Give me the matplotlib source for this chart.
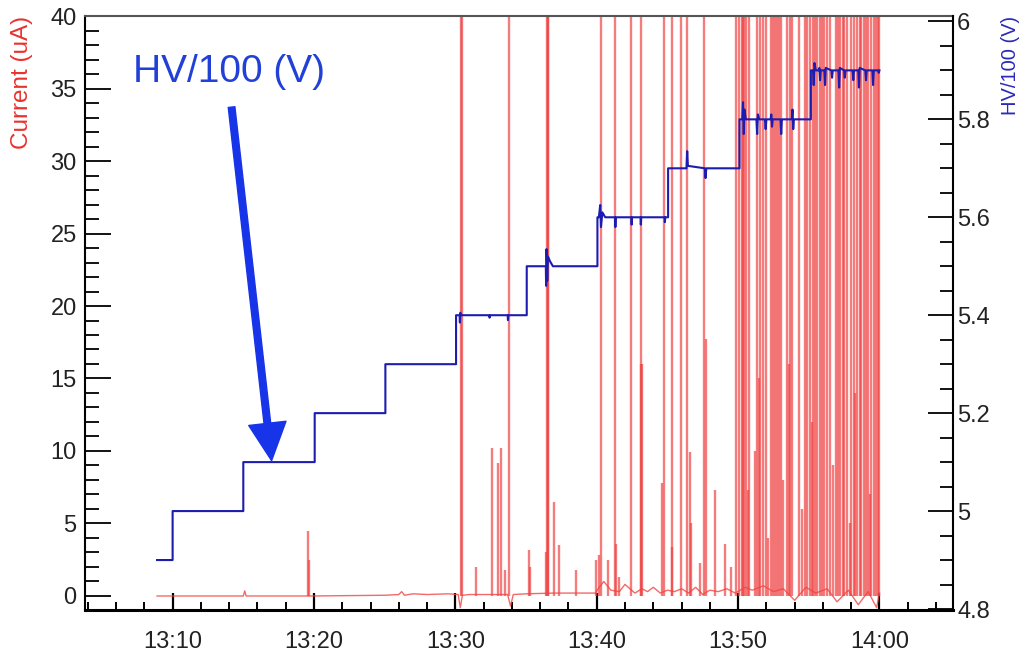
import matplotlib
matplotlib.use('Agg')
import matplotlib.pyplot as plt
from matplotlib.ticker import MultipleLocator, FuncFormatter

plt.rcParams['font.family'] = ['Liberation Sans', 'DejaVu Sans']

# time axis: minutes after 13:00
# current baseline (uA)
base_t = [8.9, 15.0, 15.1, 15.2, 19.5, 19.9, 25.0, 26.0, 26.2, 26.4, 27.0, 28.0, 29.5, 30.2, 30.35,
          30.5, 31.0, 33.7, 33.9, 34.1, 35.0, 37.0, 39.9, 40.1, 40.5, 41.0, 41.6, 42.0, 42.7, 43.2,
          43.6, 44.0, 44.5, 45.0, 45.5, 46.0, 46.5, 47.0, 47.5, 48.0, 48.6, 49.2, 49.8, 50.5, 51.0,
          51.8, 52.5, 53.2, 54.0, 54.8, 55.5, 56.3, 57.0, 57.8, 58.5, 59.2, 59.8, 60.0]
base_v = [0.0, 0.0, 0.35, 0.0, 0.0, 0.0, 0.05, 0.1, 0.3, 0.05, 0.15, 0.1, 0.15, 0.1, -0.8,
          0.05, 0.1, 0.1, -0.7, 0.1, 0.15, 0.2, 0.2, 0.5, 1.0, 0.4, 0.3, 0.8, 0.2, 0.5,
          0.3, 0.6, 0.2, 0.4, 0.3, 0.5, 0.2, 0.6, 0.1, 0.4, 0.3, 0.5, 0.2, 0.6, 0.4,
          0.7, 0.3, 0.5, -0.3, 0.6, 0.2, 0.5, -0.4, 0.4, -0.6, 0.3, -0.8, 0.2]

# current spikes: time (min after 13:00), peak (uA); 45 = off scale
spike_t = [19.6, 19.68, 30.4, 30.45, 31.43, 32.6, 33.0, 33.2, 33.5, 33.78, 35.2, 35.25, 36.4, 36.45,
           36.52, 36.58, 37.0, 37.3, 38.55, 39.95, 40.15, 40.32, 40.77, 41.31, 41.38, 41.6, 42.46,
           43.1, 43.15, 43.2, 44.6, 44.75, 45.3, 45.35, 45.97, 46.4, 46.6, 46.7, 47.3, 47.6, 47.75,
           48.4, 49.1, 49.5, 49.87, 50.1, 50.25, 50.33, 50.4, 50.57, 50.7, 50.8, 51.2, 51.37, 51.5,
           51.55, 51.73, 51.95, 52.1, 52.3, 52.45, 52.6, 52.75, 52.9, 53.07, 53.2, 53.45, 53.6,
           53.65, 53.78, 54.3, 54.5, 54.7, 54.9, 55.1, 55.2, 55.3, 55.45, 55.6, 55.8, 55.95, 56.1,
           56.3, 56.5, 56.7, 56.96, 57.1, 57.24, 57.4, 57.52, 57.7, 57.9, 58.0, 58.2, 58.3, 58.44,
           58.6, 58.73, 58.9, 59.05, 59.2, 59.3, 59.43, 59.6, 59.75, 59.9, 60.0]
spike_h = [4.5, 2.5, 45, 45, 2.0, 10.2, 9.2, 10.2, 1.8, 45, 3.2, 2.0, 3.0, 45,
           45, 45, 6.5, 3.5, 1.8, 2.5, 2.8, 45, 2.5, 45, 3.6, 1.3, 45,
           45, 16, 16, 7.8, 45, 45, 3.4, 45, 45, 9.9, 5.0, 2.3, 45, 17.7,
           7.3, 3.6, 2.0, 45, 45, 45, 45, 45, 45, 7.3, 45, 10, 45, 15,
           45, 45, 45, 4, 45, 45, 45, 45, 45, 45, 8, 45, 16,
           45, 45, 45, 6, 45, 45, 45, 12, 45, 45, 45, 45, 45, 45,
           45, 45, 9, 45, 45, 45, 45, 45, 45, 5, 45, 45, 14, 45,
           45, 45, 45, 45, 45, 7, 45, 45, 45, 45, 45]

# HV/100 (V)
hv_t = [8.9, 10.0, 10.0, 15.0, 15.0, 20.05, 20.05, 25.05, 25.05, 30.05, 30.05,
        30.3, 30.32, 30.35, 30.4, 32.4, 32.42, 32.45, 33.7, 33.72, 33.75, 35.05, 35.05,
        36.4, 36.42, 36.45, 36.5, 36.55, 36.7, 36.9, 40.05, 40.05,
        40.15, 40.25, 40.3, 40.4, 40.6, 41.3, 41.32, 41.35, 42.45, 42.47, 42.5, 43.1, 43.12, 43.15,
        44.8, 44.82, 44.85, 45.05, 45.05,
        46.35, 46.4, 46.45, 47.65, 47.7, 47.75, 50.1, 50.1,
        50.3, 50.35, 50.4, 50.45, 50.55, 51.3, 51.35, 51.4, 51.5, 51.9, 51.95, 52.0, 52.3, 52.35,
        52.4, 52.45, 53.0, 53.05, 53.1, 53.8, 53.85, 53.9, 53.95, 55.15, 55.15,
        55.3, 55.35, 55.4, 55.5, 55.7, 55.75, 55.8, 55.85, 56.1, 56.15, 56.2, 56.6, 56.65, 56.7,
        57.1, 57.15, 57.2, 57.5, 57.55, 57.6, 58.1, 58.15, 58.2, 58.5, 58.55, 58.6, 59.0, 59.05,
        59.1, 59.5, 59.55, 59.6, 59.9, 59.95, 60.0]
hv_v = [4.9, 4.9, 5.0, 5.0, 5.1, 5.1, 5.2, 5.2, 5.3, 5.3, 5.4,
        5.4, 5.385, 5.405, 5.4, 5.4, 5.395, 5.4, 5.4, 5.39, 5.4, 5.4, 5.5,
        5.5, 5.46, 5.535, 5.47, 5.52, 5.51, 5.5, 5.5, 5.6,
        5.6, 5.625, 5.58, 5.61, 5.6, 5.6, 5.58, 5.6, 5.6, 5.585, 5.6, 5.6, 5.585, 5.6,
        5.6, 5.59, 5.6, 5.6, 5.7,
        5.7, 5.735, 5.705, 5.7, 5.68, 5.7, 5.7, 5.8,
        5.8, 5.835, 5.77, 5.82, 5.8, 5.8, 5.77, 5.81, 5.8, 5.8, 5.78, 5.8, 5.8, 5.81,
        5.785, 5.8, 5.8, 5.77, 5.8, 5.8, 5.82, 5.78, 5.8, 5.8, 5.9,
        5.9, 5.87, 5.915, 5.9, 5.9, 5.905, 5.88, 5.9, 5.9, 5.87, 5.905, 5.9, 5.885, 5.9,
        5.9, 5.865, 5.905, 5.9, 5.885, 5.9, 5.9, 5.88, 5.9, 5.9, 5.865, 5.905, 5.9, 5.88,
        5.9, 5.9, 5.87, 5.9, 5.9, 5.895, 5.9]

redColor = '#f04444'
blueColor = '#1c1cb0'

fig = plt.figure(figsize=(10.3, 6.54), dpi=100)
ax = fig.add_axes([0.0825, 0.0673, 0.8427, 0.9082])
ax.plot(base_t, base_v, color=redColor, lw=1.0, alpha=0.8)
ax.vlines(spike_t, 0, spike_h, color=redColor, lw=1.7, alpha=0.7)
ax.set_xlim(3.8, 65.2)
ax.set_ylim(-0.966, 40)

ax2 = ax.twinx()
ax2.plot(hv_t, hv_v, color=blueColor, lw=1.5)
ax2.set_ylim(4.798, 6.011)

# annotation
ax2.text(7.17, 5.877, 'HV/100 (V)', color='#2040d8', fontsize=28, ha='left', va='baseline')
ax2.annotate('', xy=(17.0, 5.103), xytext=(14.17, 5.825),
             arrowprops=dict(arrowstyle='simple,head_length=0.9,head_width=0.9,tail_width=0.16',
                             color='#1834e8', mutation_scale=30, shrinkA=0, shrinkB=0))

# axes formatting
ax.xaxis.set_major_locator(MultipleLocator(10))
ax.xaxis.set_minor_locator(MultipleLocator(2))
ax.xaxis.set_major_formatter(FuncFormatter(lambda m, p: f"{13 + int(round(m)) // 60}:{int(round(m)) % 60:02d}"))
ax.yaxis.set_major_locator(MultipleLocator(5))
ax.yaxis.set_minor_locator(MultipleLocator(1))
ax2.yaxis.set_major_locator(MultipleLocator(0.2))
ax2.yaxis.set_minor_locator(MultipleLocator(0.05))
ax2.yaxis.set_major_formatter(FuncFormatter(lambda v, p: f"{v:g}"))

ax.tick_params(axis='y', which='major', direction='in', length=19, width=1.3, labelsize=17, pad=6,
               labelcolor='#222222', right=False)
ax.tick_params(axis='y', which='minor', direction='in', length=10, width=1.3, right=False)
ax.tick_params(axis='x', which='major', direction='in', length=12, width=1.6, labelsize=17, pad=15,
               labelcolor='#222222', top=False)
ax.tick_params(axis='x', which='minor', direction='in', length=6, width=1.4, top=False)
ax2.tick_params(axis='y', which='major', direction='in', length=18, width=1.3, labelsize=17, pad=3,
                labelcolor='#222222')
ax2.tick_params(axis='y', which='minor', direction='in', length=9.5, width=1.3)

ax.spines['bottom'].set_linewidth(2.2)
ax.spines['left'].set_linewidth(1.5)
ax.spines['top'].set_linewidth(1.5)
ax.spines['top'].set_color('#555555')
for s in ['top', 'left', 'bottom']:
    ax2.spines[s].set_visible(False)
ax2.spines['right'].set_linewidth(1.5)
ax.spines['right'].set_visible(False)

ax.set_ylabel('Current (uA)', color='#e8332e', fontsize=17.5)
ax.yaxis.set_label_coords(-0.06, 0.888)
ax2.set_ylabel('HV/100 (V)', color='#2a2ab8', fontsize=14.5)
ax2.yaxis.set_label_coords(1.0553, 0.9175)

fig.savefig('out.png', dpi=100)
